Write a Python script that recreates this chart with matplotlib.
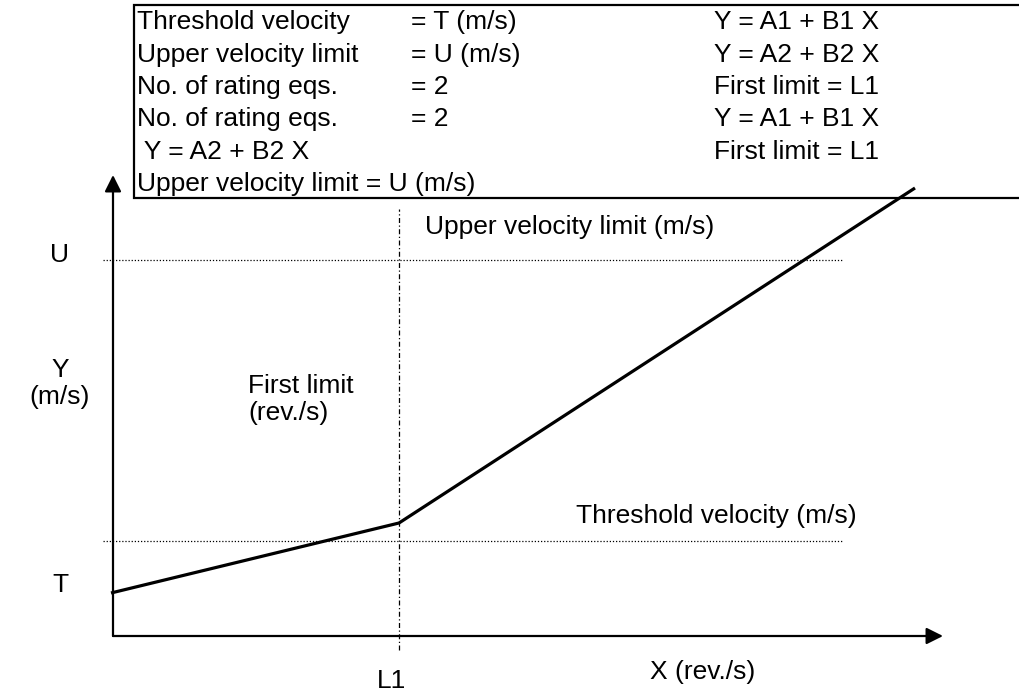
import matplotlib
matplotlib.use("Agg")
import matplotlib.pyplot as plt
from matplotlib.patches import Rectangle

# ---- data (schematic units: X in rev./s, Y in m/s) ----
threshold_T = 0.95
upper_U = 3.76
first_limit_L1 = 2.86
curve_x = [-0.02, 2.86, 8.02]
curve_y = [0.43, 1.13, 4.48]
x_axis_end = 8.30
y_axis_end = 4.61
guide_x_range = [-0.10, 7.30]
guide_y_range = [-0.14, 4.27]

box_col1 = ["Threshold velocity", "Upper velocity limit", "No. of rating eqs.",
            "No. of rating eqs.", " Y = A2 + B2 X", "Upper velocity limit = U (m/s)"]
box_col2 = ["= T (m/s)", "= U (m/s)", "= 2", "= 2", "", ""]
box_col3 = ["Y = A1 + B1 X", "Y = A2 + B2 X", "First limit = L1",
            "Y = A1 + B1 X", "First limit = L1", ""]

plt.rcParams['font.family'] = ['Liberation Sans', 'DejaVu Sans']
FS = 19

fig = plt.figure(figsize=(10.19, 6.92), dpi=100)
ax = fig.add_axes([0, 0, 1, 1])
ax.set_xlim(-1.13, 9.06)
ax.set_ylim(-0.56, 6.36)
ax.axis('off')

# axes with arrows
arrow_kw = dict(arrowstyle='-|>,head_length=0.4,head_width=0.2', mutation_scale=25,
                lw=1.6, color='black', shrinkA=0, shrinkB=0)
ax.annotate('', xy=(x_axis_end, 0), xytext=(0, 0), arrowprops=arrow_kw, zorder=2)
ax.annotate('', xy=(0, y_axis_end), xytext=(0, 0), arrowprops=arrow_kw, zorder=2)

# guide lines
ax.hlines([upper_U, threshold_T], guide_x_range[0], guide_x_range[1],
          colors='black', linestyles=(0, (1, 1.5)), lw=0.9, zorder=1)
ax.vlines(first_limit_L1, guide_y_range[0], guide_y_range[1],
          colors='black', linestyles=(0, (4, 2, 1, 2)), lw=0.9, zorder=1)

# rating curve
ax.plot(curve_x, curve_y, color='black', lw=2.3, solid_capstyle='butt', zorder=4)

# info box
ax.add_patch(Rectangle((0.21, 4.38), 10, 1.93, facecolor='white',
                       edgecolor='black', lw=1.6, zorder=3))
for i in range(6):
    y = 6.16 - 0.323 * i
    ax.text(0.24, y, box_col1[i], fontsize=FS, va='center_baseline', ha='left', zorder=5)
    ax.text(2.98, y, box_col2[i], fontsize=FS, va='center_baseline', ha='left', zorder=5)
    ax.text(6.01, y, box_col3[i], fontsize=FS, va='center_baseline', ha='left', zorder=5)

# labels
ax.text(-0.53, 3.83, "U", fontsize=FS, ha='center', va='center_baseline')
ax.text(-0.53, 2.68, "Y", fontsize=FS, ha='center', va='center_baseline')
ax.text(-0.53, 2.41, "(m/s)", fontsize=FS, ha='center', va='center_baseline')
ax.text(-0.53, 0.54, "T", fontsize=FS, ha='center', va='center_baseline')
ax.text(1.35, 2.52, "First limit", fontsize=FS, ha='left', va='center_baseline')
ax.text(1.35, 2.25, "(rev./s)", fontsize=FS, ha='left', va='center_baseline')
ax.text(3.12, 4.11, "Upper velocity limit (m/s)", fontsize=FS, ha='left', va='center_baseline')
ax.text(4.63, 1.23, "Threshold velocity (m/s)", fontsize=FS, ha='left', va='center_baseline')
ax.text(2.79, -0.42, "L1", fontsize=FS, ha='center', va='center_baseline')
ax.text(5.37, -0.34, "X (rev./s)", fontsize=FS, ha='left', va='center_baseline')

fig.savefig("out.png", dpi=100)
